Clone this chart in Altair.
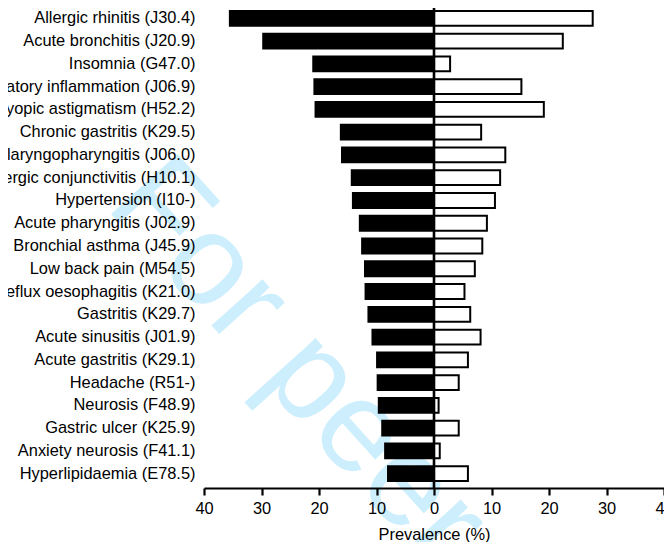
import altair as alt
import pandas as pd

categories = [
    "Allergic rhinitis (J30.4)",
    "Acute bronchitis (J20.9)",
    "Insomnia (G47.0)",
    "Acute upper respiratory inflammation (J06.9)",
    "Myopic astigmatism (H52.2)",
    "Chronic gastritis (K29.5)",
    "Acute laryngopharyngitis (J06.0)",
    "Allergic conjunctivitis (H10.1)",
    "Hypertension (I10-)",
    "Acute pharyngitis (J02.9)",
    "Bronchial asthma (J45.9)",
    "Low back pain (M54.5)",
    "Reflux oesophagitis (K21.0)",
    "Gastritis (K29.7)",
    "Acute sinusitis (J01.9)",
    "Acute gastritis (K29.1)",
    "Headache (R51-)",
    "Neurosis (F48.9)",
    "Gastric ulcer (K25.9)",
    "Anxiety neurosis (F41.1)",
    "Hyperlipidaemia (E78.5)",
]
left_values = [35.5, 29.7, 21.0, 20.8, 20.6, 16.2, 16.0, 14.3, 14.1, 12.9, 12.5,
               12.0, 11.9, 11.4, 10.7, 9.9, 9.8, 9.6, 9.0, 8.5, 8.0]
right_values = [27.6, 22.4, 2.8, 15.2, 19.1, 8.2, 12.4, 11.5, 10.6, 9.2, 8.4,
                7.1, 5.3, 6.3, 8.1, 5.9, 4.3, 0.8, 4.3, 1.0, 5.9]
groups = ["Left group", "Right group"]
tick_values = [-40, -30, -20, -10, 0, 10, 20, 30, 40]
watermark_text = ["For peer review only"]

rows = []
for c, lv, rv in zip(categories, left_values, right_values):
    rows.append({"category": c, "value": -lv, "group": groups[0]})
    rows.append({"category": c, "value": rv, "group": groups[1]})
df = pd.DataFrame(rows)

FONT = "Liberation Sans"

bars = alt.Chart(df).mark_bar(stroke="black", strokeWidth=2).encode(
    x=alt.X("value:Q",
            scale=alt.Scale(domain=[-40, 40], nice=False, zero=False),
            axis=alt.Axis(values=tick_values, labelExpr="abs(datum.value)",
                          labelFlush=False, title="Prevalence (%)", grid=False,
                          zindex=2)),
    y=alt.Y("category:N", sort=categories,
            scale=alt.Scale(range=[3, 473], paddingInner=0.35, paddingOuter=0),
            axis=alt.Axis(title=None, domain=False, ticks=False, labelPadding=9,
                          labelLimit=500, labelFontSize=16.4, zindex=2)),
    fill=alt.Fill("group:N", scale=alt.Scale(domain=groups, range=["black", "white"]),
                  legend=None),
)

zero = alt.Chart(pd.DataFrame({"zero": [0]})).mark_rule(
    color="black", strokeWidth=2.6
).encode(x="zero:Q")

wm = alt.Chart(pd.DataFrame({"t": watermark_text})).mark_text(
    align="left", baseline="alphabetic", angle=48, fontSize=130,
    color="#cdeefc", font=FONT
).encode(text="t:N", x=alt.value(-100), y=alt.value(198))

chart = alt.layer(wm, bars, zero).properties(
    width=460, height=480,
    padding={"left": 196, "top": 0, "right": 0, "bottom": 54},
    autosize=alt.AutoSizeParams(type="none"),
).configure_view(stroke=None).configure_axis(
    labelFont=FONT, titleFont=FONT, labelColor="black", titleColor="black",
    labelFontSize=16.4, titleFontSize=16.4, titleFontWeight="normal",
    domainColor="black", domainWidth=2.2, tickColor="black", tickWidth=2.2,
    tickSize=7, labelPadding=5, titlePadding=10,
)

chart.save("out.html", embed_options={"renderer": "svg", "actions": False})
